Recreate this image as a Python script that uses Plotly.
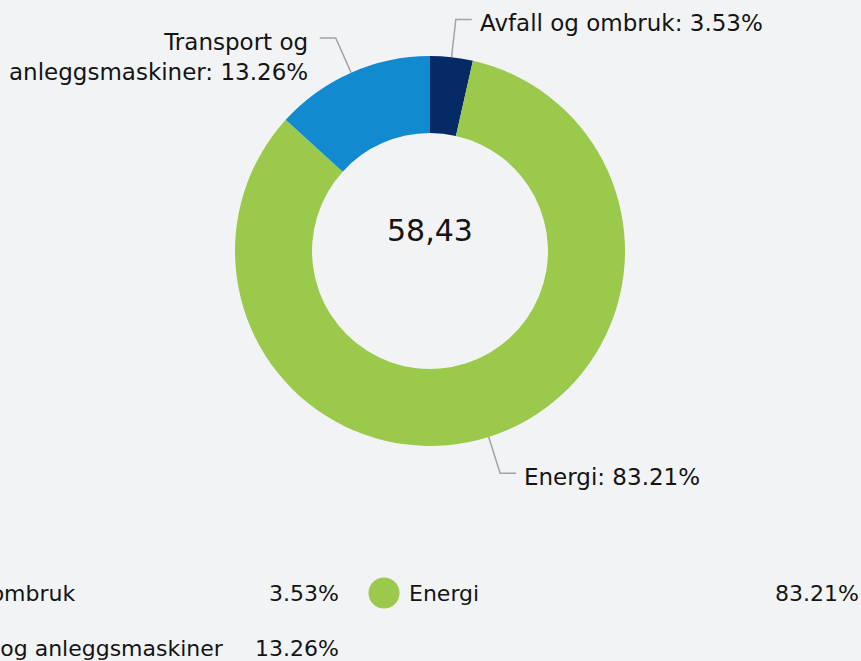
import math
import plotly.graph_objects as go

# ---- data ----
labels = ["Avfall og ombruk", "Energi", "Transport og anleggsmaskiner"]
label_lines = ["Avfall og ombruk", "Energi", "Transport og<br>anleggsmaskiner"]
values = [3.53, 83.21, 13.26]
colors = ["#062a66", "#9bc94b", "#128ad0"]
center_value = "58,43"

# ---- layout constants (pixels) ----
W, H = 861, 661
CX, CY, R = 430, 251, 195
HOLE = 0.605
BG = "#f2f3f5"
TXT = "#141414"
FONT = "DejaVu Sans, Verdana, sans-serif"


def px(x):
    return x / W


def py(y):
    return 1 - y / H


fig = go.Figure()
fig.add_trace(go.Pie(
    labels=labels,
    values=values,
    marker=dict(colors=colors, line=dict(width=0)),
    hole=HOLE,
    sort=False,
    direction="clockwise",
    rotation=0,
    textinfo="none",
    hoverinfo="label+percent",
    showlegend=False,
    domain=dict(x=[px(CX - R), px(CX + R)], y=[py(CY + R), py(CY - R)]),
))

shapes = []
annotations = []

# data labels with leader lines
total = sum(values)
cum = 0.0
for lab, v in zip(label_lines, values):
    mid = (cum + v / 2) / total
    cum += v
    ang = 2 * math.pi * mid
    s, c = math.sin(ang), math.cos(ang)
    x0, y0 = CX + R * s, CY - R * c
    ex, ey = CX + (R + 38) * s, CY - (R + 38) * c
    right = s >= 0
    hx = ex + (16 if right else -16)
    shapes.append(dict(
        type="path", xref="paper", yref="paper",
        path=f"M {px(x0)} {py(y0)} L {px(ex)} {py(ey)} L {px(hx)} {py(ey)}",
        line=dict(color="#a3a3a3", width=1.5),
    ))
    pct = f"{v / total * 100:.2f}%"
    annotations.append(dict(
        x=px(hx + (6 if right else -10)), y=py(ey - 11),
        xref="paper", yref="paper",
        xanchor="left" if right else "right", yanchor="top",
        align="left" if right else "right",
        text=f"{lab}: {pct}", showarrow=False,
        font=dict(family=FONT, size=23, color=TXT),
    ))

# centre value
annotations.append(dict(
    x=px(CX), y=py(231), xref="paper", yref="paper",
    xanchor="center", yanchor="middle",
    text=center_value, showarrow=False,
    font=dict(family=FONT, size=30, color=TXT),
))

# custom legend (two columns, cut off at left like the original)
for i, (lab, v, col) in enumerate(zip(labels, values, colors)):
    row, cidx = i // 2, i % 2
    mx = -136 + cidx * 520
    my = 593 + row * 55
    r = 15.5
    shapes.append(dict(
        type="circle", xref="paper", yref="paper",
        x0=px(mx - r), x1=px(mx + r), y0=py(my + r), y1=py(my - r),
        fillcolor=col, line=dict(width=0),
    ))
    annotations.append(dict(
        x=px(mx + 23), y=py(my), xref="paper", yref="paper",
        xanchor="left", yanchor="middle", text=lab, showarrow=False,
        font=dict(family=FONT, size=22, color=TXT),
    ))
    annotations.append(dict(
        x=px(mx + 477), y=py(my), xref="paper", yref="paper",
        xanchor="right", yanchor="middle", text=f"{v:.2f}%", showarrow=False,
        font=dict(family=FONT, size=22, color=TXT),
    ))

fig.update_layout(
    width=W, height=H,
    margin=dict(l=0, r=0, t=0, b=0),
    paper_bgcolor=BG, plot_bgcolor=BG,
    shapes=shapes, annotations=annotations,
    showlegend=False,
)

fig.write_html(
    "out.html",
    config={"displayModeBar": False},
    post_script="document.body.style.margin='0px';"
                "document.body.style.background='#f2f3f5';"
                "document.body.style.overflow='hidden';",
)
